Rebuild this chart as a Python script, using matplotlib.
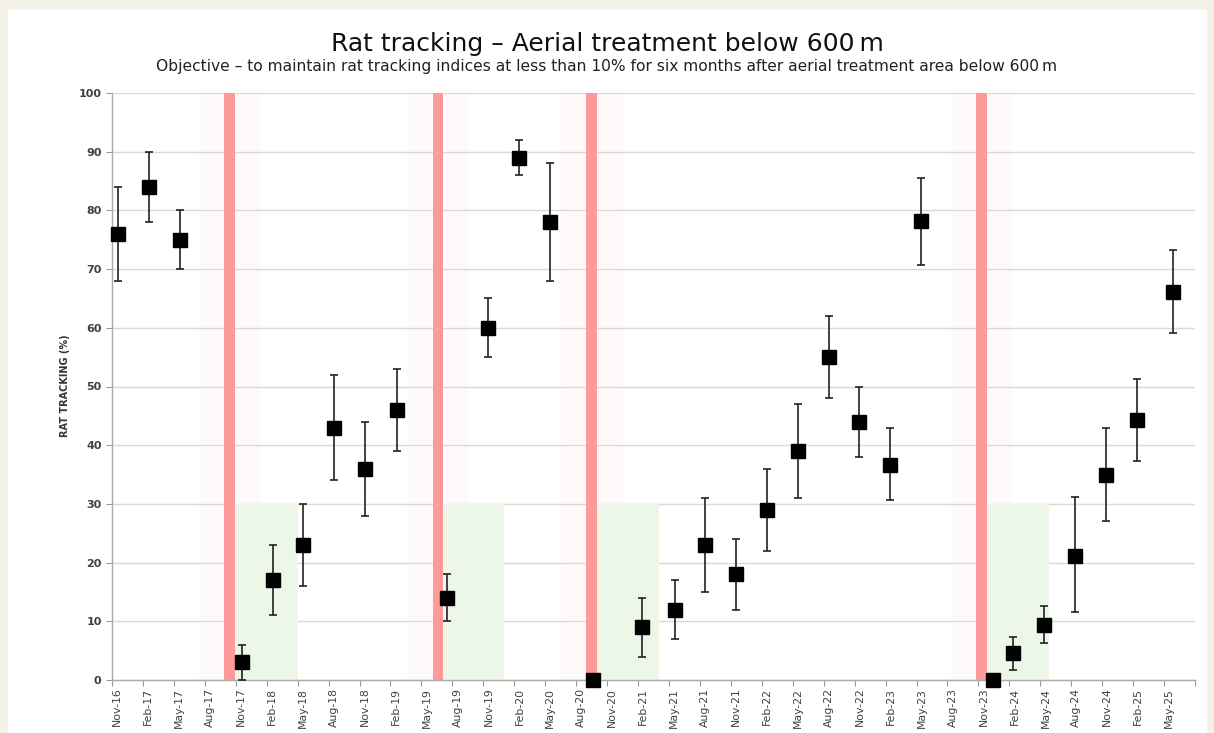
import matplotlib.pyplot as plt
from matplotlib.patches import Rectangle

# months counted from Nov-16 (tick every quarter)
tick_labels = ['Nov-16', 'Feb-17', 'May-17', 'Aug-17', 'Nov-17', 'Feb-18', 'May-18', 'Aug-18',
               'Nov-18', 'Feb-19', 'May-19', 'Aug-19', 'Nov-19', 'Feb-20', 'May-20', 'Aug-20',
               'Nov-20', 'Feb-21', 'May-21', 'Aug-21', 'Nov-21', 'Feb-22', 'May-22', 'Aug-22',
               'Nov-22', 'Feb-23', 'May-23', 'Aug-23', 'Nov-23', 'Feb-24', 'May-24', 'Aug-24',
               'Nov-24', 'Feb-25', 'May-25']

survey_month = [0.6, 3.6, 6.6, 12.6, 15.6, 18.5, 21.5, 24.5, 27.6, 32.5, 36.5, 39.5, 42.5,
                46.6, 51.4, 54.6, 57.5, 60.5, 63.5, 66.5, 69.5, 72.4, 75.4, 78.4, 85.4,
                87.4, 90.4, 93.4, 96.4, 99.4, 102.9]
tracking = [76, 84, 75, 3, 17, 23, 43, 36, 46, 14, 60, 89, 78, 0, 9, 12, 23, 18, 29, 39,
            55, 44, 36.6, 78.2, 0, 4.6, 9.4, 21.1, 34.9, 44.3, 66.1]
low = [68, 78, 70, 0, 11, 16, 34, 28, 39, 10, 55, 86, 68, 0, 4, 7, 15, 12, 22, 31,
       48, 38, 30.7, 70.7, 0, 1.7, 6.3, 11.6, 27.1, 37.3, 59.1]
high = [84, 90, 80, 6, 23, 30, 52, 44, 53, 18, 65, 92, 88, 0, 14, 17, 31, 24, 36, 47,
        62, 50, 42.9, 85.5, 0, 7.3, 12.6, 31.2, 42.9, 51.3, 73.3]

# aerial treatments and the six month target windows
treatment_month = [11.4, 31.6, 46.5, 84.3]
target_start = [11.9, 32.1, 47.0, 84.8]
target_end = [18.0, 38.0, 53.0, 90.8]
target_level = 30

W, H = 1214, 733
fig = plt.figure(figsize=(W / 100, H / 100), dpi=100)
fig.patch.set_facecolor('#f4f1e9')
fig.add_artist(Rectangle((8 / W, 0), (1206 - 8) / W, (733 - 10) / H,
                         transform=fig.transFigure, color='white', zorder=-1))

ax = fig.add_axes([112 / W, 1 - 680 / H, (1195 - 112) / W, (680 - 93) / H])
ax.set_facecolor('white')

for s, e in zip(target_start, target_end):
    ax.add_patch(Rectangle((s, 0), e - s, target_level, color='#edf7e8', lw=0, zorder=1))
for t in treatment_month:
    ax.axvspan(t - 3, t + 3, color='#ffd0d0', alpha=0.1, lw=0, zorder=0.5)
    ax.axvspan(t - 0.5, t + 0.5, color='#ff9a9a', lw=0, zorder=2)

yerr = [[v - l for v, l in zip(tracking, low)], [h - v for v, h in zip(tracking, high)]]
ax.errorbar(survey_month, tracking, yerr=yerr, fmt='s', color='black', ms=10,
            ecolor='#222222', elinewidth=1.2, capsize=3, capthick=1.2, zorder=5,
            clip_on=False)

ax.set_xlim(0, 105)
ax.set_ylim(0, 100)
ax.set_yticks(range(0, 101, 10))
# tick marks on the quarter, labels sit a little to the right as in the original
ax.set_xticks(range(0, 106, 3))
ax.set_xticklabels([])
ax.set_xticks([3 * i + 0.5 for i in range(len(tick_labels))], minor=True)
ax.set_xticklabels(tick_labels, minor=True, rotation=90, fontsize=7.8, color='#404040')
ax.tick_params(axis='x', which='minor', length=0, pad=5.5)
for lab in ax.get_yticklabels():
    lab.set_fontweight('bold')
    lab.set_fontsize(8)
    lab.set_color('#404040')
ax.tick_params(axis='both', which='major', length=4, color='#999999', width=0.8)
ax.grid(axis='y', which='major', color='#d9d9d9', lw=1, zorder=0)
ax.set_axisbelow(True)
for side in ['top', 'right']:
    ax.spines[side].set_visible(False)
for side in ['left', 'bottom']:
    ax.spines[side].set_color('#aaaaaa')
    ax.spines[side].set_linewidth(1)

fig.text(65 / W, 1 - 386 / H, 'RAT TRACKING (%)', rotation=90, ha='center', va='center',
         fontsize=7, fontweight='bold', color='#333333')
fig.text(0.5, 1 - 44 / H, 'Rat tracking \u2013 Aerial treatment below 600\u2009m',
         ha='center', va='center', fontsize=18, color='#111111')
fig.text(0.5, 1 - 67 / H, 'Objective \u2013 to maintain rat tracking indices at less than 10% '
         'for six months after aerial treatment area below 600\u2009m',
         ha='center', va='center', fontsize=11.2, color='#222222')

fig.savefig('out.png', dpi=100, facecolor=fig.get_facecolor())
